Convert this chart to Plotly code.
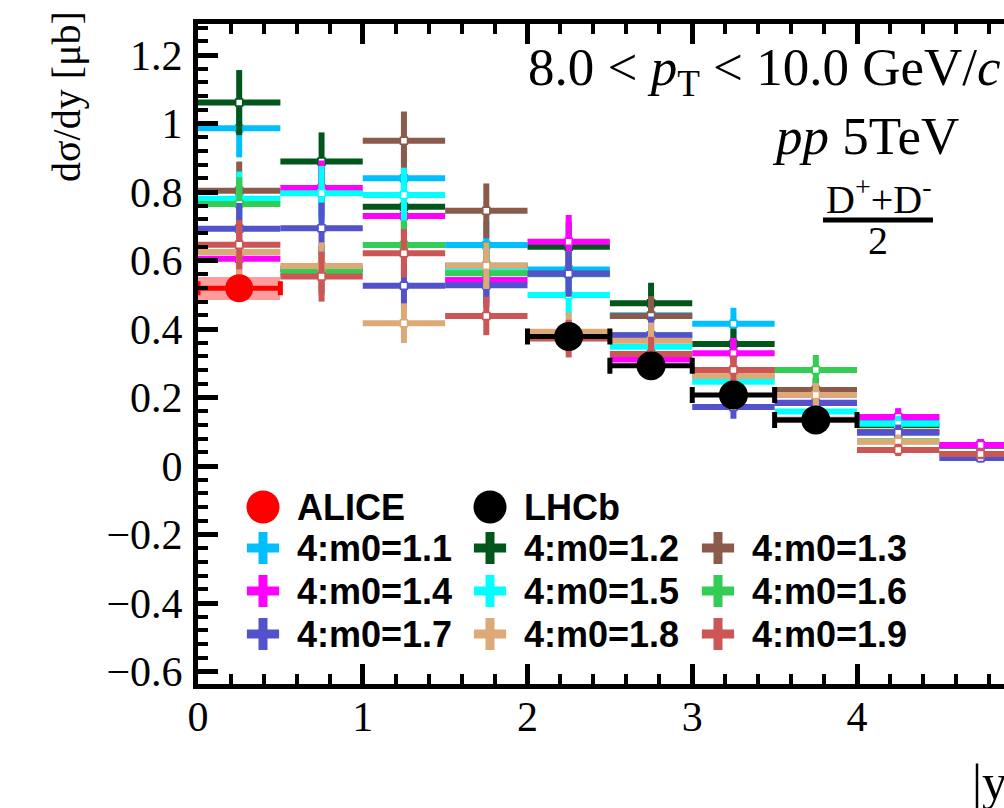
import plotly.graph_objects as go

# ---------------- data ----------------
bin_centers = [0.25, 0.75, 1.25, 1.75, 2.25, 2.75, 3.25, 3.75, 4.25, 4.75]
bin_half = [0.25, 0.25, 0.25, 0.25, 0.25, 0.25, 0.25, 0.25, 0.25, 0.25]

model_labels = ["4:m0=1.1", "4:m0=1.2", "4:m0=1.3", "4:m0=1.4", "4:m0=1.5",
                "4:m0=1.6", "4:m0=1.7", "4:m0=1.8", "4:m0=1.9"]
model_colors = ["#00BFFF", "#00561B", "#8C5A4B", "#FF00FF", "#00FFFF",
                "#33CC55", "#5252CC", "#DDAA77", "#CC5555"]

m0_11 = [0.986, 0.800, 0.840, 0.645, 0.574, 0.440, 0.415, 0.210, 0.140, 0.060]
m0_12 = [1.061, 0.889, 0.757, 0.585, 0.640, 0.475, 0.356, 0.220, 0.120, 0.060]
m0_13 = [0.804, 0.575, 0.950, 0.745, 0.562, 0.438, 0.280, 0.222, 0.100, 0.060]
m0_14 = [0.605, 0.812, 0.730, 0.543, 0.655, 0.311, 0.329, 0.185, 0.143, 0.061]
m0_15 = [0.780, 0.796, 0.791, 0.570, 0.499, 0.348, 0.246, 0.159, 0.123, 0.035]
m0_16 = [0.765, 0.567, 0.645, 0.563, 0.560, 0.382, 0.263, 0.280, 0.072, 0.035]
m0_17 = [0.693, 0.694, 0.526, 0.528, 0.561, 0.382, 0.172, 0.184, 0.097, 0.023]
m0_18 = [0.625, 0.584, 0.417, 0.585, 0.392, 0.366, 0.263, 0.207, 0.071, 0.035]
m0_19 = [0.646, 0.553, 0.621, 0.438, 0.372, 0.327, 0.280, 0.135, 0.047, 0.035]

err_11 = [0.085, 0.078, 0.080, 0.070, 0.068, 0.055, 0.047, 0.035, 0.026, 0.018]
err_12 = [0.095, 0.085, 0.078, 0.068, 0.072, 0.060, 0.045, 0.036, 0.025, 0.018]
err_13 = [0.085, 0.068, 0.085, 0.080, 0.066, 0.058, 0.042, 0.036, 0.024, 0.018]
err_14 = [0.072, 0.080, 0.077, 0.066, 0.078, 0.048, 0.045, 0.033, 0.026, 0.018]
err_15 = [0.080, 0.080, 0.080, 0.067, 0.062, 0.050, 0.040, 0.031, 0.024, 0.015]
err_16 = [0.078, 0.068, 0.072, 0.067, 0.066, 0.054, 0.041, 0.044, 0.021, 0.015]
err_17 = [0.075, 0.075, 0.065, 0.065, 0.066, 0.054, 0.034, 0.033, 0.024, 0.013]
err_18 = [0.071, 0.069, 0.058, 0.068, 0.056, 0.053, 0.041, 0.035, 0.021, 0.015]
err_19 = [0.072, 0.073, 0.071, 0.056, 0.055, 0.050, 0.043, 0.030, 0.018, 0.015]

model_values = [m0_11, m0_12, m0_13, m0_14, m0_15, m0_16, m0_17, m0_18, m0_19]
model_errors = [err_11, err_12, err_13, err_14, err_15, err_16, err_17, err_18, err_19]

alice_x = [0.25]
alice_y = [0.519]
alice_xerr = [0.25]
alice_sys = [0.033]

lhcb_x = [2.25, 2.75, 3.25, 3.75]
lhcb_y = [0.378, 0.293, 0.207, 0.134]
lhcb_xerr = [0.25, 0.25, 0.25, 0.25]

y_ticks = [-0.6, -0.4, -0.2, 0, 0.2, 0.4, 0.6, 0.8, 1.0, 1.2]
x_ticks = [0, 1, 2, 3, 4]

# ---------------- geometry (pixels) ----------------
W, H = 1004, 808
L, R, T, B = 198, 1004, 24, 684
PW, PH = R - L, B - T
X_PX_PER_UNIT = 164.75
Y_PX_PER_UNIT = 342.5
Y_ZERO_PX = 466


def fx(px):
    return (px - L) / PW


def fy(py):
    return (B - py) / PH


SERIF = "Liberation Serif"
SANS = "Liberation Sans"

fig = go.Figure()

# model predictions
for lab, col, vals, errs in zip(model_labels, model_colors, model_values, model_errors):
    fig.add_trace(go.Scatter(
        x=bin_centers, y=vals, mode="markers", name=lab, showlegend=False,
        marker=dict(symbol="square", size=7, color="white",
                    line=dict(color=col, width=1.5)),
        error_x=dict(type="data", array=bin_half, thickness=6, width=0, color=col),
        error_y=dict(type="data", array=errs, thickness=6, width=0, color=col),
    ))

# ALICE systematic box
fig.add_trace(go.Bar(
    x=alice_x, y=[2 * s for s in alice_sys],
    base=[v - s for v, s in zip(alice_y, alice_sys)],
    width=[2 * w for w in alice_xerr],
    marker=dict(color="#FF9C9C", line=dict(width=0)),
    showlegend=False, name="ALICE syst."))

# ALICE
fig.add_trace(go.Scatter(
    x=alice_x, y=alice_y, mode="markers", name="ALICE", showlegend=False,
    marker=dict(symbol="circle", size=28, color="#FF0000"),
    error_x=dict(type="data", array=alice_xerr, thickness=5, width=7, color="#FF0000"),
))

# LHCb
fig.add_trace(go.Scatter(
    x=lhcb_x, y=lhcb_y, mode="markers", name="LHCb", showlegend=False,
    marker=dict(symbol="circle", size=29, color="black"),
    error_x=dict(type="data", array=lhcb_xerr, thickness=5, width=8, color="black"),
))

# ---------------- hand-placed legend ----------------
leg_col_px = [263, 490, 718]
leg_row_px = [507, 548, 591, 634]
leg_text_dx = 32

legend_entries = [("ALICE", "#FF0000", "circle", 0, 0),
                  ("LHCb", "black", "circle", 1, 0)]
for i, (lab, col) in enumerate(zip(model_labels, model_colors)):
    legend_entries.append((lab, col, "cross", i % 3, 1 + i // 3))

annotations = []
for lab, col, sym, c, r in legend_entries:
    if sym == "circle":
        mk = dict(symbol="circle", size=33, color=col)
    else:
        mk = dict(symbol="cross-thin", size=23, color=col,
                  line=dict(color=col, width=9))
    fig.add_trace(go.Scatter(
        x=[fx(leg_col_px[c])], y=[fy(leg_row_px[r])], mode="markers",
        marker=mk, xaxis="x3", yaxis="y3", showlegend=False,
        hoverinfo="skip", name=lab))
    annotations.append(dict(
        x=fx(leg_col_px[c] + leg_text_dx), y=fy(leg_row_px[r]),
        xref="paper", yref="paper", xanchor="left", yanchor="middle",
        text=f"<b>{lab}</b>", showarrow=False,
        font=dict(family=SANS, size=36, color="black")))

# ---------------- text annotations ----------------
annotations += [
    dict(x=fx(1003), y=fy(71), xref="paper", yref="paper",
         xanchor="right", yanchor="middle", showarrow=False,
         text="8.0 &lt; <i>p</i><sub>T</sub> &lt; 10.0 GeV/<i>c</i>",
         font=dict(family=SERIF, size=53, color="black")),
    dict(x=fx(961), y=fy(136), xref="paper", yref="paper",
         xanchor="right", yanchor="middle", showarrow=False,
         text="<i>pp</i> 5TeV",
         font=dict(family=SERIF, size=53, color="black")),
    dict(x=fx(878), y=fy(197), xref="paper", yref="paper",
         xanchor="center", yanchor="middle", showarrow=False,
         text="D<sup>+</sup>+D<sup>-</sup>",
         font=dict(family=SERIF, size=40, color="black")),
    dict(x=fx(878), y=fy(241), xref="paper", yref="paper",
         xanchor="center", yanchor="middle", showarrow=False,
         text="2", font=dict(family=SERIF, size=40, color="black")),
    dict(x=fx(66), y=fy(97), xref="paper", yref="paper",
         xanchor="center", yanchor="middle", showarrow=False,
         text="dσ/dy [μb]", textangle=-90,
         font=dict(family=SERIF, size=40, color="black")),
    dict(x=fx(970), y=fy(782), xref="paper", yref="paper",
         xanchor="left", yanchor="middle", showarrow=False,
         text="|y|", font=dict(family=SERIF, size=50, color="black")),
]

shapes = [
    dict(type="line", xref="paper", yref="paper",
         x0=fx(823), x1=fx(933), y0=fy(220), y1=fy(220),
         line=dict(color="black", width=5)),
]

axis_common = dict(showgrid=False, zeroline=False, ticks="inside",
                   tickcolor="black", linecolor="black")

fig.update_layout(
    width=W, height=H,
    margin=dict(l=L, r=W - R, t=T, b=H - B, pad=0),
    paper_bgcolor="white", plot_bgcolor="white",
    showlegend=False, bargap=0,
    font=dict(family=SERIF, color="black"),
    xaxis=dict(range=[0, PW / X_PX_PER_UNIT], tickvals=x_ticks,
               showline=True, linewidth=5, mirror="ticks",
               ticklen=20, tickwidth=5,
               minor=dict(ticks="inside", dtick=0.2, tick0=0, ticklen=10,
                          tickwidth=4, tickcolor="black"),
               tickfont=dict(family=SERIF, size=42, color="black"),
               ticklabelstandoff=-8, **axis_common),
    yaxis=dict(range=[(Y_ZERO_PX - B) / Y_PX_PER_UNIT, (Y_ZERO_PX - T) / Y_PX_PER_UNIT],
               tickvals=y_ticks,
               showline=True, linewidth=5,
               ticklen=20, tickwidth=5,
               minor=dict(ticks="inside", dtick=0.04, tick0=0, ticklen=10,
                          tickwidth=4, tickcolor="black"),
               tickfont=dict(family=SERIF, size=42, color="black"),
               ticklabelstandoff=2, **axis_common),
    yaxis2=dict(overlaying="y", side="right", anchor="x", matches="y",
                tickvals=y_ticks, showticklabels=False, showline=False,
                ticklen=11, tickwidth=5, **axis_common),
    xaxis3=dict(overlaying="x", range=[0, 1], visible=False, anchor="y3"),
    yaxis3=dict(overlaying="y", range=[0, 1], visible=False, anchor="x3"),
    annotations=annotations,
    shapes=shapes,
)

fig.write_html("out.html")
